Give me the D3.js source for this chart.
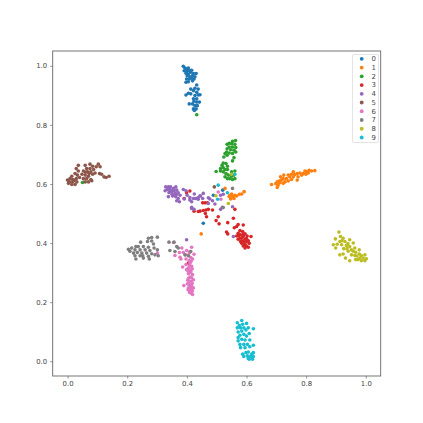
<!DOCTYPE html>
<html><head><meta charset="utf-8">
<script src="https://cdn.jsdelivr.net/npm/d3@7"></script>
<style>html,body{margin:0;padding:0;background:#fff}svg{display:block}text{font-family:"DejaVu Sans",sans-serif}</style>
</head><body><div id="chart"></div>
<script>
const labels=["0","1","2","3","4","5","6","7","8","9"];
const colors=["#1f77b4","#ff7f0e","#2ca02c","#d62728","#9467bd","#8c564b","#e377c2","#7f7f7f","#bcbd22","#17becf"];
const tickValues=[0,0.2,0.4,0.6,0.8,1.0];
const digit0=[[.388,.998],[.394,.992],[.399,.989],[.405,.992],[.391,.983],[.399,.981],[.408,.983],[.416,.985],[.397,.975],[.405,.972],[.413,.978],[.422,.974],[.431,.974],[.401,.966],[.410,.963],[.419,.967],[.427,.963],[.399,.955],[.408,.955],[.416,.958],[.424,.955],[.397,.944],[.405,.946],[.419,.949],[.433,.935],[.427,.924],[.438,.921],[.413,.921],[.422,.916],[.433,.910],[.444,.902],[.405,.907],[.397,.901],[.413,.905],[.427,.899],[.438,.901],[.422,.888],[.433,.888],[.408,.871],[.424,.880],[.433,.877],[.442,.877],[.419,.871],[.427,.865],[.435,.865],[.422,.854],[.431,.854],[.425,.849],[.489,.562],[.455,.467],[.520,.579]];
const digit1=[[.829,.645],[.818,.644],[.810,.646],[.801,.641],[.807,.637],[.796,.644],[.790,.635],[.799,.633],[.779,.637],[.770,.635],[.785,.630],[.773,.624],[.757,.641],[.762,.632],[.751,.633],[.757,.624],[.745,.624],[.740,.630],[.770,.613],[.751,.615],[.725,.630],[.734,.618],[.723,.618],[.714,.624],[.740,.610],[.729,.607],[.717,.613],[.710,.610],[.703,.607],[.712,.604],[.723,.602],[.698,.601],[.706,.596],[.703,.588],[.684,.598],[.544,.562],[.550,.566],[.542,.557],[.553,.557],[.561,.562],[.547,.549],[.558,.551],[.567,.559],[.576,.565],[.584,.566],[.592,.574],[.528,.585],[.448,.431]];
const digit2=[[.563,.747],[.553,.744],[.542,.738],[.535,.734],[.550,.736],[.561,.734],[.542,.725],[.553,.725],[.564,.723],[.535,.719],[.547,.716],[.558,.714],[.564,.708],[.533,.708],[.528,.703],[.542,.705],[.553,.703],[.524,.691],[.535,.697],[.558,.689],[.553,.678],[.522,.671],[.531,.669],[.518,.663],[.536,.660],[.522,.655],[.513,.652],[.528,.649],[.536,.649],[.498,.642],[.513,.644],[.522,.641],[.561,.644],[.550,.641],[.531,.635],[.539,.630],[.550,.626],[.558,.630],[.544,.618],[.553,.615],[.561,.618],[.536,.618],[.528,.624],[.433,.834],[.050,.605]];
const digit3=[[.589,.461],[.572,.463],[.559,.452],[.567,.456],[.578,.442],[.587,.439],[.572,.433],[.595,.431],[.580,.428],[.567,.424],[.589,.422],[.602,.424],[.615,.422],[.578,.416],[.595,.413],[.606,.408],[.584,.408],[.572,.413],[.609,.399],[.595,.397],[.584,.399],[.600,.390],[.589,.390],[.606,.386],[.595,.383],[.533,.437],[.537,.431],[.556,.484],[.537,.469],[.508,.465],[.498,.476],[.505,.489],[.561,.514],[.466,.489],[.462,.500],[.486,.512],[.472,.514],[.464,.512],[.455,.510],[.444,.508],[.453,.536],[.461,.536],[.469,.536],[.410,.576],[.399,.570],[.391,.551],[.424,.508],[.438,.507],[.405,.332],[.580,.405],[.590,.405],[.600,.415],[.585,.418],[.573,.425],[.590,.430],[.600,.405],[.592,.394]];
const digit4=[[.329,.590],[.338,.590],[.327,.577],[.335,.581],[.343,.582],[.349,.574],[.340,.571],[.357,.577],[.363,.590],[.366,.579],[.360,.568],[.371,.570],[.338,.557],[.352,.559],[.363,.557],[.371,.551],[.377,.562],[.388,.581],[.397,.577],[.401,.562],[.366,.543],[.375,.540],[.391,.549],[.410,.554],[.429,.551],[.438,.554],[.425,.566],[.455,.568],[.446,.559],[.453,.551],[.416,.521],[.424,.514],[.472,.534],[.472,.553],[.444,.560],[.433,.551],[.422,.551],[.438,.548],[.410,.546],[.416,.540],[.477,.549],[.486,.543],[.494,.532],[.513,.514],[.519,.521],[.553,.523],[.416,.517],[.513,.562],[.522,.565],[.556,.422],[.399,.411],[.345,.590],[.350,.565],[.345,.578],[.355,.585],[.358,.562],[.365,.565]];
const digit5=[[.103,.667],[.096,.658],[.109,.658],[.036,.663],[.029,.652],[.059,.663],[.075,.667],[.084,.660],[.064,.652],[.075,.652],[.087,.649],[.036,.644],[.053,.644],[.067,.641],[.078,.641],[.025,.635],[.014,.626],[.033,.630],[.048,.633],[.059,.630],[.070,.626],[.084,.633],[.092,.637],[.107,.635],[.114,.633],[.122,.624],[.139,.626],[.129,.622],[.008,.618],[.017,.615],[.029,.618],[-.0005,.613],[.053,.618],[.064,.618],[.078,.615],[.006,.607],[.017,.607],[.031,.607],[.059,.607],[.070,.607],[.081,.611],[.014,.598],[.025,.598],[.003,.602],[.492,.590],[.022,.612],[.040,.622],[.072,.635],[.060,.640]];
const digit6=[[.355,.402],[.383,.383],[.416,.386],[.375,.368],[.388,.368],[.399,.375],[.410,.371],[.424,.362],[.360,.358],[.377,.352],[.394,.360],[.405,.357],[.413,.351],[.380,.346],[.397,.346],[.408,.341],[.419,.346],[.386,.319],[.397,.327],[.410,.332],[.405,.315],[.416,.321],[.413,.304],[.405,.296],[.419,.293],[.410,.285],[.403,.274],[.413,.270],[.422,.276],[.390,.256],[.407,.259],[.416,.259],[.405,.248],[.413,.248],[.422,.248],[.408,.239],[.418,.237],[.413,.231],[.419,.226],[.301,.366],[.410,.242],[.416,.282],[.399,.310],[.408,.310],[.408,.366],[.414,.338],[.505,.573],[.514,.548],[.405,.280],[.410,.268],[.418,.265],[.402,.262],[.411,.253],[.417,.251],[.404,.242],[.416,.243],[.409,.233],[.412,.300],[.404,.305],[.418,.312],[.409,.323]];
const digit7=[[.301,.420],[.282,.419],[.271,.416],[.245,.403],[.268,.405],[.282,.407],[.288,.397],[.229,.388],[.237,.388],[.254,.388],[.271,.386],[.290,.383],[.301,.377],[.204,.379],[.215,.383],[.226,.377],[.243,.377],[.260,.377],[.276,.375],[.209,.372],[.221,.366],[.234,.368],[.249,.366],[.265,.366],[.282,.364],[.293,.360],[.304,.357],[.226,.357],[.243,.357],[.271,.355],[.254,.349],[.229,.346],[.274,.346],[.252,.357],[.340,.403],[.357,.403],[.366,.388],[.343,.375],[.360,.371],[.371,.383],[.394,.360],[.413,.371],[.405,.357],[.553,.585],[.522,.520]];
const digit8=[[.910,.437],[.898,.414],[.891,.394],[.904,.396],[.915,.422],[.924,.416],[.930,.405],[.913,.405],[.919,.394],[.946,.411],[.958,.400],[.935,.392],[.946,.388],[.926,.381],[.913,.360],[.899,.383],[.941,.372],[.932,.349],[.952,.377],[.963,.383],[.966,.369],[.978,.377],[.952,.360],[.963,.358],[.978,.363],[.946,.340],[.985,.358],[.997,.360],[.980,.349],[.991,.349],[.985,.340],[.997,.340],[1.002,.347],[.974,.344],[.966,.344],[.924,.363],[.937,.381],[.539,.534],[.497,.560],[.550,.633],[.920,.408],[.940,.398],[.958,.372],[.970,.356]];
const digit9=[[.569,.130],[.584,.138],[.600,.128],[.576,.121],[.587,.125],[.623,.110],[.569,.113],[.580,.113],[.591,.113],[.606,.113],[.572,.099],[.584,.102],[.598,.106],[.609,.094],[.578,.088],[.591,.091],[.600,.085],[.572,.080],[.572,.069],[.584,.074],[.595,.072],[.611,.072],[.578,.057],[.591,.057],[.603,.057],[.580,.046],[.595,.046],[.623,.054],[.611,.049],[.587,.024],[.598,.029],[.606,.031],[.623,.029],[.591,.016],[.603,.018],[.614,.016],[.623,.016],[.609,.007],[.620,.007],[.617,.024],[.606,.009],[.505,.596],[.536,.570],[.503,.548],[.561,.633]];
const series=[digit0,digit1,digit2,digit3,digit4,digit5,digit6,digit7,digit8,digit9];

const W=423,H=423,L=52.7,R=380.7,T=51,B=376;
const x=d3.scaleLinear().domain([-0.05,1.05]).range([L,R]);
const y=d3.scaleLinear().domain([-0.05,1.05]).range([B,T]);
const svg=d3.select("#chart").append("svg").attr("width",W).attr("height",H);
series.forEach((pts,i)=>{
  svg.append("g").selectAll("circle").data(pts).join("circle")
    .attr("cx",d=>x(d[0])).attr("cy",d=>y(d[1])).attr("r",1.8).attr("fill",colors[i]);
});
const fmt=d3.format(".1f");
function style(g){
  g.attr("opacity",.99);
  g.selectAll("text").attr("font-size",6.9).attr("fill","#444");
  g.selectAll("line").attr("stroke","#666").attr("stroke-width",.7);
  g.select(".domain").remove();
}
svg.append("g").attr("transform",`translate(0,${B})`).call(d3.axisBottom(x).tickValues(tickValues).tickFormat(fmt).tickSize(2.5).tickPadding(3)).call(style);
svg.append("g").attr("transform",`translate(${L},0)`).call(d3.axisLeft(y).tickValues(tickValues).tickFormat(fmt).tickSize(2.5).tickPadding(3)).call(style);
svg.append("rect").attr("x",L).attr("y",T).attr("width",R-L).attr("height",B-T).attr("fill","none").attr("stroke","#666").attr("stroke-width",.9);
const legend=svg.append("g").attr("opacity",.99);
legend.append("rect").attr("x",352.5).attr("y",54.5).attr("width",26).attr("height",88).attr("rx",1.5).attr("fill","#fff").attr("fill-opacity",.8).attr("stroke","#ddd").attr("stroke-width",.8);
const ly=d3.scalePoint().domain(labels).range([58.8,137.5]);
legend.selectAll("circle").data(labels).join("circle").attr("cx",361.7).attr("cy",d=>ly(d)).attr("r",1.9).attr("fill",(d,i)=>colors[i]);
legend.selectAll("text").data(labels).join("text").attr("x",373.7).attr("y",d=>ly(d)).attr("dy","0.35em").attr("text-anchor","middle").attr("font-size",6.9).attr("fill","#444").text(d=>d);
</script></body></html>
